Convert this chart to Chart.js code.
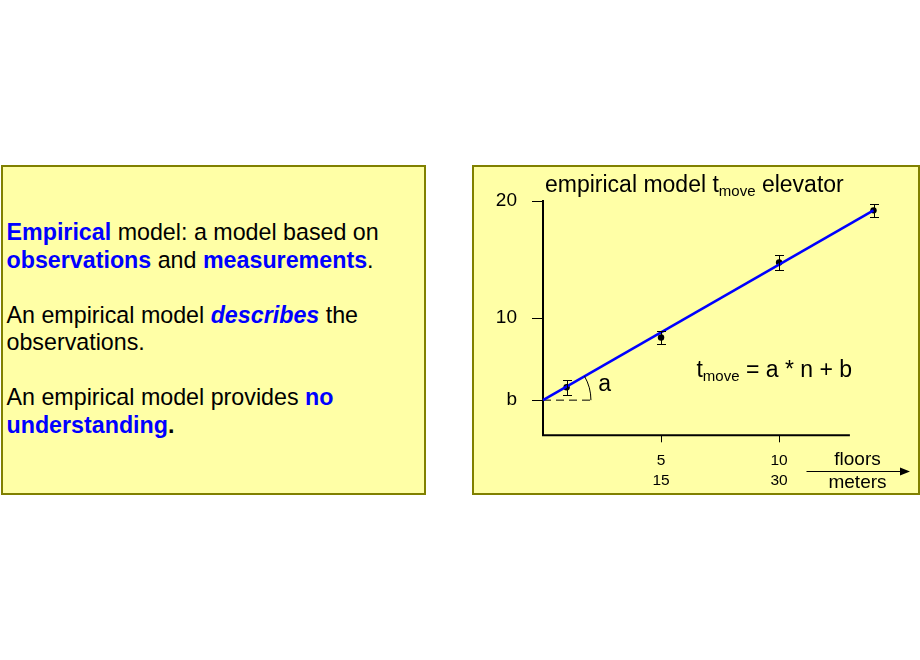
<!DOCTYPE html>
<html><head><meta charset="utf-8">
<script src="https://cdn.jsdelivr.net/npm/chart.js@4.4.1/dist/chart.umd.min.js"></script>
<style>
html,body{margin:0;padding:0;background:#fff;width:920px;height:660px;overflow:hidden;font-family:'Liberation Sans',Arial,sans-serif;}
.box{position:absolute;box-sizing:border-box;background:#FFFFA6;border:2px solid #808000;}
#left{left:1px;top:165px;width:425px;height:330px;}
#right{left:472px;top:165px;width:448px;height:330px;}
#txt{position:absolute;left:6.5px;top:219px;font-size:23.25px;line-height:27.5px;color:#000;white-space:nowrap;}
#txt p{margin:0 0 27.5px 0;}
.b{color:#0000FF;font-weight:bold;}
.bi{color:#0000FF;font-weight:bold;font-style:italic;}
.k{font-weight:bold;}
#c{position:absolute;left:0;top:0;}
</style></head><body>
<div class="box" id="left"></div>
<div class="box" id="right"></div>
<div id="txt">
<p><span class="b">Empirical</span> model: a model based on<br><span class="b">observations</span> and <span class="b">measurements</span>.</p>
<p>An empirical model <span class="bi">describes</span> the<br>observations.</p>
<p>An empirical model provides <span class="b">no</span><br><span class="b">understanding</span><span class="k">.</span></p>
</div>
<canvas id="c" width="920" height="660"></canvas>
<script>
// measured data (floors n vs. travel time t_move)
const floors = [1, 5, 10, 14];
const times = [4.1, 8.35, 14.75, 19.2];
const timeErrors = [0.63, 0.58, 0.6, 0.58];
// fitted empirical model line
const fitFloors = [0, 14];
const fitTimes = [3, 19.2];
const interceptB = 3;
const slopeMarkerEnd = 2.03;
const xAxisEnd = 13;
// ticks
const yTickValues = [3, 10, 20];
const yTickLabels = ['b', '10', '20'];
const xTickValues = [5, 10];
const xTickFloorLabels = ['5', '10'];
const xTickMeterLabels = ['15', '30'];

const FAM = "'Liberation Sans', Arial, sans-serif";

const annot = {
  id: 'annot',
  afterDatasetsDraw(chart) {
    const {ctx, scales: {x, y}} = chart;
    ctx.save();
    ctx.strokeStyle = '#000';
    ctx.fillStyle = '#000';
    // x axis line
    ctx.lineWidth = 2;
    ctx.beginPath();
    ctx.moveTo(x.getPixelForValue(0) - 1, y.getPixelForValue(0));
    ctx.lineTo(x.getPixelForValue(xAxisEnd), y.getPixelForValue(0));
    ctx.stroke();
    // error bars
    ctx.lineWidth = 1;
    floors.forEach((f, i) => {
      const px = Math.round(x.getPixelForValue(f)) + 0.5;
      const t = Math.round(y.getPixelForValue(times[i] + timeErrors[i])) + 0.5;
      const b = Math.round(y.getPixelForValue(times[i] - timeErrors[i])) + 0.5;
      ctx.beginPath();
      ctx.moveTo(px, t); ctx.lineTo(px, b);
      ctx.moveTo(px - 4.5, t); ctx.lineTo(px + 4.5, t);
      ctx.moveTo(px - 4.5, b); ctx.lineTo(px + 4.5, b);
      ctx.stroke();
    });
    // slope arc
    const cx = x.getPixelForValue(0), cy = y.getPixelForValue(interceptB);
    const r = x.getPixelForValue(slopeMarkerEnd) - cx;
    const ang = Math.atan2(cy - y.getPixelForValue(fitTimes[1]), x.getPixelForValue(fitFloors[1]) - cx);
    ctx.beginPath();
    ctx.arc(cx, cy, r, -ang, 0);
    ctx.stroke();
    // "a" label
    ctx.textBaseline = 'alphabetic';
    ctx.textAlign = 'left';
    ctx.font = '23px ' + FAM;
    ctx.fillText('a', x.getPixelForValue(2.34), y.getPixelForValue(3.82));
    // title with subscript
    let tx = x.getPixelForValue(0) + 2, ty = y.getPixelForValue(20) - 9;
    const parts = [['empirical model t', 23, 0], ['move', 15, 4], [' elevator', 23, 0]];
    parts.forEach(([s, sz, dy]) => { ctx.font = sz + 'px ' + FAM; ctx.fillText(s, tx, ty + dy); tx += ctx.measureText(s).width; });
    // equation
    tx = x.getPixelForValue(6.5); ty = y.getPixelForValue(5.0);
    const eq = [['t', 23, 0], ['move', 15, 4], [' = a * n + b', 23, 0]];
    eq.forEach(([s, sz, dy]) => { ctx.font = sz + 'px ' + FAM; ctx.fillText(s, tx, ty + dy); tx += ctx.measureText(s).width; });
    // axis unit labels and arrow
    ctx.font = '19px ' + FAM;
    ctx.textAlign = 'center';
    ctx.fillText('floors', 857.5, 465);
    ctx.fillText('meters', 857.5, 488);
    ctx.lineWidth = 1.2;
    ctx.beginPath();
    ctx.moveTo(806.5, 471.5); ctx.lineTo(902, 471.5);
    ctx.stroke();
    ctx.beginPath();
    ctx.moveTo(910, 471.5); ctx.lineTo(900, 467.5); ctx.lineTo(900, 475.5); ctx.closePath();
    ctx.fill();
    ctx.restore();
  }
};

new Chart(document.getElementById('c').getContext('2d'), {
  type: 'scatter',
  data: {
    datasets: [
      {type: 'line', showLine: true, data: fitFloors.map((v, i) => ({x: v, y: fitTimes[i]})),
       borderColor: '#0000FF', borderWidth: 2.5, pointRadius: 0, fill: false, clip: false, tension: 0},
      {type: 'line', showLine: true, data: [{x: 0, y: interceptB}, {x: slopeMarkerEnd, y: interceptB}],
       borderColor: '#000', borderWidth: 1, borderDash: [8, 5], pointRadius: 0, fill: false, clip: false},
      {type: 'scatter', data: floors.map((v, i) => ({x: v, y: times[i]})),
       backgroundColor: '#000', borderColor: '#000', pointRadius: 3.2, borderWidth: 0, clip: false}
    ]
  },
  options: {
    responsive: false, animation: false, devicePixelRatio: 1,
    layout: {padding: {left: 483, right: 46.5, top: 201, bottom: 174.7}},
    plugins: {legend: {display: false}, tooltip: {enabled: false}, title: {display: false}},
    scales: {
      x: {
        type: 'linear', min: 0, max: 14,
        afterFit(s) { s.height = 50; },
        afterBuildTicks(s) { s.ticks = xTickValues.map(v => ({value: v})); },
        ticks: {
          callback: (v) => { const i = xTickValues.indexOf(v); return [xTickFloorLabels[i], xTickMeterLabels[i]]; },
          color: '#000', font: {family: FAM, size: 15.5, lineHeight: '20px'}, padding: 8, maxRotation: 0, autoSkip: false
        },
        grid: {drawOnChartArea: false, drawTicks: true, tickLength: 7, color: '#000', lineWidth: 1},
        border: {display: false}
      },
      y: {
        type: 'linear', min: 0, max: 20,
        afterFit(s) { s.width = 60; },
        afterBuildTicks(s) { s.ticks = yTickValues.map(v => ({value: v})); },
        ticks: {
          callback: (v) => yTickLabels[yTickValues.indexOf(v)],
          color: '#000', font: {family: FAM, size: 19}, padding: 15, autoSkip: false
        },
        grid: {drawOnChartArea: false, drawTicks: true, tickLength: 11, color: '#000', lineWidth: 1},
        border: {display: true, color: '#000', width: 2}
      }
    }
  },
  plugins: [annot]
});
</script>
</body></html>
